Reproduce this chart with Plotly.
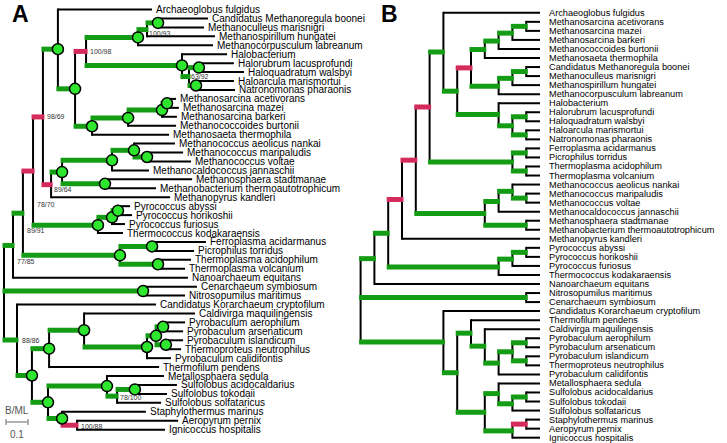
import plotly.graph_objects as go

# ---------------- data: panel A (B/ML phylogram) ----------------
A_LEAVES = [
    "Archaeoglobus fulgidus", "Candidatus Methanoregula boonei", "Methanoculleus marisnigri",
    "Methanospirillum hungatei", "Methanocorpusculum labreanum", "Halobacterium",
    "Halorubrum lacusprofundi", "Haloquadratum walsbyi", "Haloarcula marismortui",
    "Natronomonas pharaonis", "Methanosarcina acetivorans", "Methanosarcina mazei",
    "Methanosarcina barkeri", "Methanococcoides burtonii", "Methanosaeta thermophila",
    "Methanococcus aeolicus nankai", "Methanococcus maripaludis", "Methanococcus voltae",
    "Methanocaldococcus jannaschii", "Methanosphaera stadtmanae",
    "Methanobacterium thermoautotrophicum", "Methanopyrus kandleri", "Pyrococcus abyssi",
    "Pyrococcus horikoshii", "Pyrococcus furiosus", "Thermococcus kodakaraensis",
    "Ferroplasma acidarmanus", "Picrophilus torridus", "Thermoplasma acidophilum",
    "Thermoplasma volcanium", "Nanoarchaeum equitans", "Cenarchaeum symbiosum",
    "Nitrosopumilus maritimus", "Candidatus Korarchaeum cryptofilum",
    "Caldivirga maquilingensis", "Pyrobaculum aerophilum", "Pyrobaculum arsenaticum",
    "Pyrobaculum islandicum", "Thermoproteus neutrophilus", "Pyrobaculum calidifontis",
    "Thermofilum pendens", "Metallosphaera sedula", "Sulfolobus acidocaldarius",
    "Sulfolobus tokodaii", "Sulfolobus solfataricus", "Staphylothermus marinus",
    "Aeropyrum pernix", "Ignicoccus hospitalis"]
A_LEAF_PARENT = [
    "N1", "MM3", "MM3", "MM2", "MM1", "H1", "H3", "H3", "H4", "H4",
    "Sa3", "Sa3", "Sa2", "Sa1", "N4", "Mc2", "Mc3", "Mc3", "Mc1", "Mb",
    "Mb", "E4", "T3", "T3", "T2", "T1", "FP", "FP", "TT", "TT",
    "U", "Thaum", "Thaum", "CK", "Tp", "P3", "P3", "P4", "P4", "P1",
    "C2", "Su1", "Su3", "Su3", "Su2", "D1", "D2", "D2"]
A_LEAF_DEPTH = [
    0.673, 0.927, 0.909, 0.959, 0.950, 1.014, 1.045, 1.091, 1.045, 1.050,
    0.782, 0.795, 0.786, 0.782, 0.750, 0.777, 0.814, 0.850, 0.659, 0.855,
    0.691, 0.755, 0.573, 0.582, 0.550, 0.541, 0.918, 0.864, 0.850, 0.823,
    0.836, 0.877, 0.823, 0.691, 0.868, 0.823, 0.814, 0.814, 0.805, 0.759,
    0.705, 0.727, 0.786, 0.741, 0.714, 0.645, 0.791, 0.732]

A_NODES = ["root", "U", "E1", "E2", "E3", "E4", "M", "Mc1", "Mc2", "Mc3", "Mb",
           "N1", "N2", "N3", "MM1", "MM2", "MM3", "H1", "H2", "H3", "H4",
           "N4", "Sa1", "Sa2", "Sa3", "T1", "T2", "T3", "Tpl", "FP", "TT",
           "Thaum", "CK", "C1", "C2", "Tp", "P1", "P2", "P3", "P4",
           "C3", "Su1", "Su2", "Su3", "D1", "D2"]
A_NODE_PARENT = [None, "root", "U", "E1", "E2", "E3", "E4", "M", "Mc1", "Mc2", "M",
                 "E3", "N1", "N2", "N3", "MM1", "MM2", "N3", "H1", "H2", "H2",
                 "N2", "N4", "Sa1", "Sa2", "E2", "T1", "T2", "E1", "Tpl", "Tpl",
                 "root", "root", "CK", "C1", "C2", "Tp", "P1", "P2", "P2",
                 "C1", "C3", "Su1", "Su2", "C3", "D1"]
A_NODE_DEPTH = [0.0, 0.041, 0.086, 0.132, 0.177, 0.214, 0.264, 0.491, 0.591, 0.650, 0.459,
                0.245, 0.323, 0.373, 0.609, 0.650, 0.700, 0.809, 0.841, 0.886, 0.873,
                0.400, 0.564, 0.718, 0.741, 0.427, 0.491, 0.518, 0.527, 0.673, 0.700,
                0.632, 0.059, 0.127, 0.205, 0.364, 0.650, 0.691, 0.723, 0.736,
                0.200, 0.468, 0.514, 0.595, 0.264, 0.332]
A_NODE_COLOR = ["k", "g", "g", "r", "r", "r", "g", "g", "g", "g", "g",
                "g", "g", "r", "g", "g", "g", "g", "g", "g", "g",
                "g", "g", "g", "g", "g", "g", "g", "g", "g", "g",
                "g", "g", "g", "g", "g", "g", "g", "g", "g",
                "g", "g", "g", "g", "g", "r"]
A_NODE_DOT = [0, 0, 0, 0, 0, 0, 1, 1, 1, 1, 1,
              1, 1, 0, 1, 0, 1, 1, 0, 1, 1,
              1, 1, 1, 1, 1, 1, 1, 1, 1, 1,
              1, 0, 1, 1, 1, 1, 1, 1, 1,
              1, 1, 0, 1, 1, 0]
A_NODE_SUPPORT = ["", "", "", "78/70", "98/69", "89/64", "", "", "", "", "",
                  "", "", "100/98", "", "100/93", "", "", "63/92", "", "",
                  "", "", "", "", "89/91", "", "", "77/85", "", "",
                  "", "88/86", "", "", "", "", "", "", "",
                  "", "", "78/100", "", "", "100/88"]

# ---------------- data: panel B (cladogram) ----------------
B_LEAVES = [
    "Archaeoglobus fulgidus", "Methanosarcina acetivorans", "Methanosarcina mazei",
    "Methanosarcina barkeri", "Methanococcoides burtonii", "Methanosaeta thermophila",
    "Candidatus Methanoregula boonei", "Methanoculleus marisnigri", "Methanospirillum hungatei",
    "Methanocorpusculum labreanum", "Halobacterium", "Halorubrum lacusprofundi",
    "Haloquadratum walsbyi", "Haloarcula marismortui", "Natronomonas pharaonis",
    "Ferroplasma acidarmanus", "Picrophilus torridus", "Thermoplasma acidophilum",
    "Thermoplasma volcanium", "Methanococcus aeolicus nankai", "Methanococcus maripaludis",
    "Methanococcus voltae", "Methanocaldococcus jannaschii", "Methanosphaera stadtmanae",
    "Methanobacterium thermoautotrophicum", "Methanopyrus kandleri", "Pyrococcus abyssi",
    "Pyrococcus horikoshii", "Pyrococcus furiosus", "Thermococcus kodakaraensis",
    "Nanoarchaeum equitans", "Nitrosopumilus maritimus", "Cenarchaeum symbiosum",
    "Candidatus Korarchaeum cryptofilum", "Thermofilum pendens", "Caldivirga maquilingensis",
    "Pyrobaculum aerophilum", "Pyrobaculum arsenaticum", "Pyrobaculum islandicum",
    "Thermoproteus neutrophilus", "Pyrobaculum calidifontis", "Metallosphaera sedula",
    "Sulfolobus acidocaldarius", "Sulfolobus tokodaii", "Sulfolobus solfataricus",
    "Staphylothermus marinus", "Aeropyrum pernix", "Ignicoccus hospitalis"]
B_LEAF_PARENT = [
    "bN1", "Sa4", "Sa4", "Sa3", "Sa2", "Sa1", "Mm3", "Mm3", "Mm2", "Mm1",
    "Hb1", "Hb3", "Hb3", "Hb4", "Hb4", "FP", "FP", "TT", "TT", "Mc2",
    "Mc3", "Mc3", "Mc1", "Mb", "Mb", "bC", "T3", "T3", "T2", "T1",
    "bA", "Thaum", "Thaum", "CK", "Tp1", "Tp2", "Tp5", "Tp5", "Tp6", "Tp6",
    "Tp3", "Sf1", "Sf3", "Sf3", "Sf2", "SA", "SA", "D1"]
B_NODES = ["root", "bA", "bB", "bC", "bD", "bE", "bN1", "bN2", "bN3",
           "Sa1", "Sa2", "Sa3", "Sa4", "Mm1", "Mm2", "Mm3", "Hb1", "Hb2", "Hb3", "Hb4",
           "Tpl", "FP", "TT", "Mco", "Mc1", "Mc2", "Mc3", "Mb", "T1", "T2", "T3",
           "Thaum", "CK", "Cren", "Tp1", "Tp2", "Tp3", "Tp4", "Tp5", "Tp6",
           "CS", "Sf1", "Sf2", "Sf3", "D1", "SA"]
B_NODE_PARENT = [None, "root", "bA", "bB", "bC", "bD", "bE", "bN1", "bN2",
                 "bN3", "Sa1", "Sa2", "Sa3", "bN3", "Mm1", "Mm2", "bN2", "Hb1", "Hb2", "Hb2",
                 "bE", "Tpl", "Tpl", "bD", "Mco", "Mc1", "Mc2", "Mco", "bB", "T1", "T2",
                 "root", "root", "CK", "Cren", "Tp1", "Tp2", "Tp3", "Tp4", "Tp4",
                 "Cren", "CS", "Sf1", "Sf2", "CS", "D1"]
B_NODE_COLOR = ["k", "g", "g", "r", "r", "r", "g", "g", "r",
                "g", "g", "g", "g", "g", "g", "g", "g", "g", "g", "g",
                "g", "g", "g", "g", "g", "g", "g", "g", "g", "g", "g",
                "g", "g", "g", "g", "g", "g", "g", "g", "g",
                "g", "g", "g", "g", "g", "r"]

SCALE_BAR_VALUE = 0.1
SCALE_BAR_TITLE = "B/ML"

# ---------------- style ----------------
W, H = 727, 443
A_X0, A_PX = 4.0, 220.0          # px of root, px per substitution unit
A_Y0, A_DY = 9.5, 8.94           # first leaf row, row step
A_TEXT_GAP = 3
B_LEAF_X, B_STEP = 540.0, 13.8
B_Y0, B_DY = 12.8, 9.04
B_TEXT_GAP = 8
GREEN = "#159c15"
RED = "#d42a5c"
DOT = "#2ee62e"
FONT = "Liberation Sans"
A_SUPPORT_OFFSET = {"78/70": (3, 33), "98/69": (3, 0), "89/64": (2, 5), "100/98": (3, 0),
                    "100/93": (1, 4), "63/92": (1, 0), "89/91": (-72, 5), "77/85": (-104, 6),
                    "88/86": (4, 0), "78/100": (2, 1), "100/88": (3, 1)}


def children_map(leaf_parent, nodes, node_parent):
    kids = {n: [] for n in nodes}
    for i, p in enumerate(leaf_parent):
        kids[p].append(("leaf", i))
    for n, p in zip(nodes, node_parent):
        if p is not None:
            kids[p].append(("node", n))
    return kids


def compute_y(n, kids, leaf_y, out):
    ys = []
    for kind, k in kids[n]:
        ys.append(leaf_y[k] if kind == "leaf" else compute_y(k, kids, leaf_y, out))
    out[n] = (min(ys) + max(ys)) / 2.0
    return out[n]


def compute_h(n, kids, out):
    hs = [0 if kind == "leaf" else compute_h(k, kids, out) for kind, k in kids[n]]
    out[n] = 1 + max(hs)
    return out[n]


def segments(kids, node_x, node_y, leaf_x, leaf_y, node_color, black, green, red):
    for n, ch in kids.items():
        xn = node_x[n]
        cys = [leaf_y[k] if kind == "leaf" else node_y[k] for kind, k in ch]
        black[0] += [xn, xn, None]
        black[1] += [min(cys) - 1, max(cys) + 1, None]
        for kind, k in ch:
            if kind == "leaf":
                black[0] += [xn, leaf_x[k], None]
                black[1] += [leaf_y[k], leaf_y[k], None]
            else:
                xc, yc = node_x[k], node_y[k]
                col = node_color[k]
                black[0] += [xn, xc, None]
                black[1] += [yc, yc, None]
                if col != "k":
                    tgt = green if col == "g" else red
                    tgt[0] += [xn - 1.5, xc + 1.5, None]
                    tgt[1] += [yc, yc, None]


black, green, red = [[], []], [[], []], [[], []]
annotations = []

# ----- panel A -----
a_leaf_y = [A_Y0 + i * A_DY for i in range(len(A_LEAVES))]
a_leaf_x = [A_X0 + d * A_PX for d in A_LEAF_DEPTH]
a_kids = children_map(A_LEAF_PARENT, A_NODES, A_NODE_PARENT)
a_y = {}
compute_y("root", a_kids, a_leaf_y, a_y)
a_x = {n: A_X0 + d * A_PX for n, d in zip(A_NODES, A_NODE_DEPTH)}
a_col = dict(zip(A_NODES, A_NODE_COLOR))
segments(a_kids, a_x, a_y, a_leaf_x, a_leaf_y, a_col, black, green, red)

dot_x = [a_x[n] for n, d in zip(A_NODES, A_NODE_DOT) if d]
dot_y = [a_y[n] for n, d in zip(A_NODES, A_NODE_DOT) if d]

for name, x, y in zip(A_LEAVES, a_leaf_x, a_leaf_y):
    annotations.append(dict(x=x + A_TEXT_GAP, y=y, text=name, xanchor="left", yanchor="middle",
                            showarrow=False, font=dict(family=FONT, size=10, color="black"),
                            borderpad=0))
for n, s in zip(A_NODES, A_NODE_SUPPORT):
    if s:
        dx, dy = A_SUPPORT_OFFSET[s]
        annotations.append(dict(x=a_x[n] + dx, y=a_y[n] + dy, text=s, xanchor="left",
                                yanchor="middle", showarrow=False, borderpad=0,
                                font=dict(family=FONT, size=7, color="#333333")))

# ----- panel B -----
b_leaf_y = [B_Y0 + i * B_DY for i in range(len(B_LEAVES))]
b_leaf_x = [B_LEAF_X] * len(B_LEAVES)
b_kids = children_map(B_LEAF_PARENT, B_NODES, B_NODE_PARENT)
b_y, b_h = {}, {}
compute_y("root", b_kids, b_leaf_y, b_y)
compute_h("root", b_kids, b_h)
b_x = {n: B_LEAF_X - B_STEP * b_h[n] for n in B_NODES}
b_col = dict(zip(B_NODES, B_NODE_COLOR))
segments(b_kids, b_x, b_y, b_leaf_x, b_leaf_y, b_col, black, green, red)

for name, y in zip(B_LEAVES, b_leaf_y):
    annotations.append(dict(x=B_LEAF_X + B_TEXT_GAP, y=y, text=name, xanchor="left",
                            yanchor="middle", showarrow=False, borderpad=0,
                            font=dict(family=FONT, size=9.2, color="black")))

# ----- scale bar -----
sb_x0, sb_y = 6, 422
sb_x1 = sb_x0 + SCALE_BAR_VALUE * A_PX
scale_x = [sb_x0, sb_x1, None, sb_x0, sb_x0, None, sb_x1, sb_x1]
scale_y = [sb_y, sb_y, None, sb_y - 3, sb_y + 3, None, sb_y - 3, sb_y + 3]
annotations.append(dict(x=(sb_x0 + sb_x1) / 2, y=410, text=SCALE_BAR_TITLE, showarrow=False,
                        xanchor="center", yanchor="middle", borderpad=0,
                        font=dict(family=FONT, size=10, color="#555555")))
annotations.append(dict(x=(sb_x0 + sb_x1) / 2, y=434, text=str(SCALE_BAR_VALUE), showarrow=False,
                        xanchor="center", yanchor="middle", borderpad=0,
                        font=dict(family=FONT, size=10, color="#555555")))

# panel letters
for letter, lx in (("A", 20), ("B", 389)):
    annotations.append(dict(x=lx, y=14, text="<b>%s</b>" % letter, showarrow=False,
                            xanchor="center", yanchor="middle", borderpad=0,
                            font=dict(family=FONT, size=23, color="black")))

fig = go.Figure()
fig.add_trace(go.Scatter(x=black[0], y=black[1], mode="lines",
                         line=dict(color="black", width=2), hoverinfo="skip"))
fig.add_trace(go.Scatter(x=scale_x, y=scale_y, mode="lines",
                         line=dict(color="#999999", width=1.5), hoverinfo="skip"))
fig.add_trace(go.Scatter(x=green[0], y=green[1], mode="lines",
                         line=dict(color=GREEN, width=5), hoverinfo="skip"))
fig.add_trace(go.Scatter(x=red[0], y=red[1], mode="lines",
                         line=dict(color=RED, width=5), hoverinfo="skip"))
fig.add_trace(go.Scatter(x=dot_x, y=dot_y, mode="markers", hoverinfo="skip",
                         marker=dict(size=11, color=DOT, line=dict(color="black", width=1.5))))

fig.update_layout(width=W, height=H, autosize=False, showlegend=False,
                  margin=dict(l=0, r=0, t=0, b=0),
                  paper_bgcolor="white", plot_bgcolor="white",
                  xaxis=dict(range=[0, W], visible=False, fixedrange=True),
                  yaxis=dict(range=[H, 0], visible=False, fixedrange=True),
                  annotations=annotations)
fig.write_html("out.html", config={"displayModeBar": False},
               post_script="document.body.style.margin='0';document.body.style.overflow='hidden';")
